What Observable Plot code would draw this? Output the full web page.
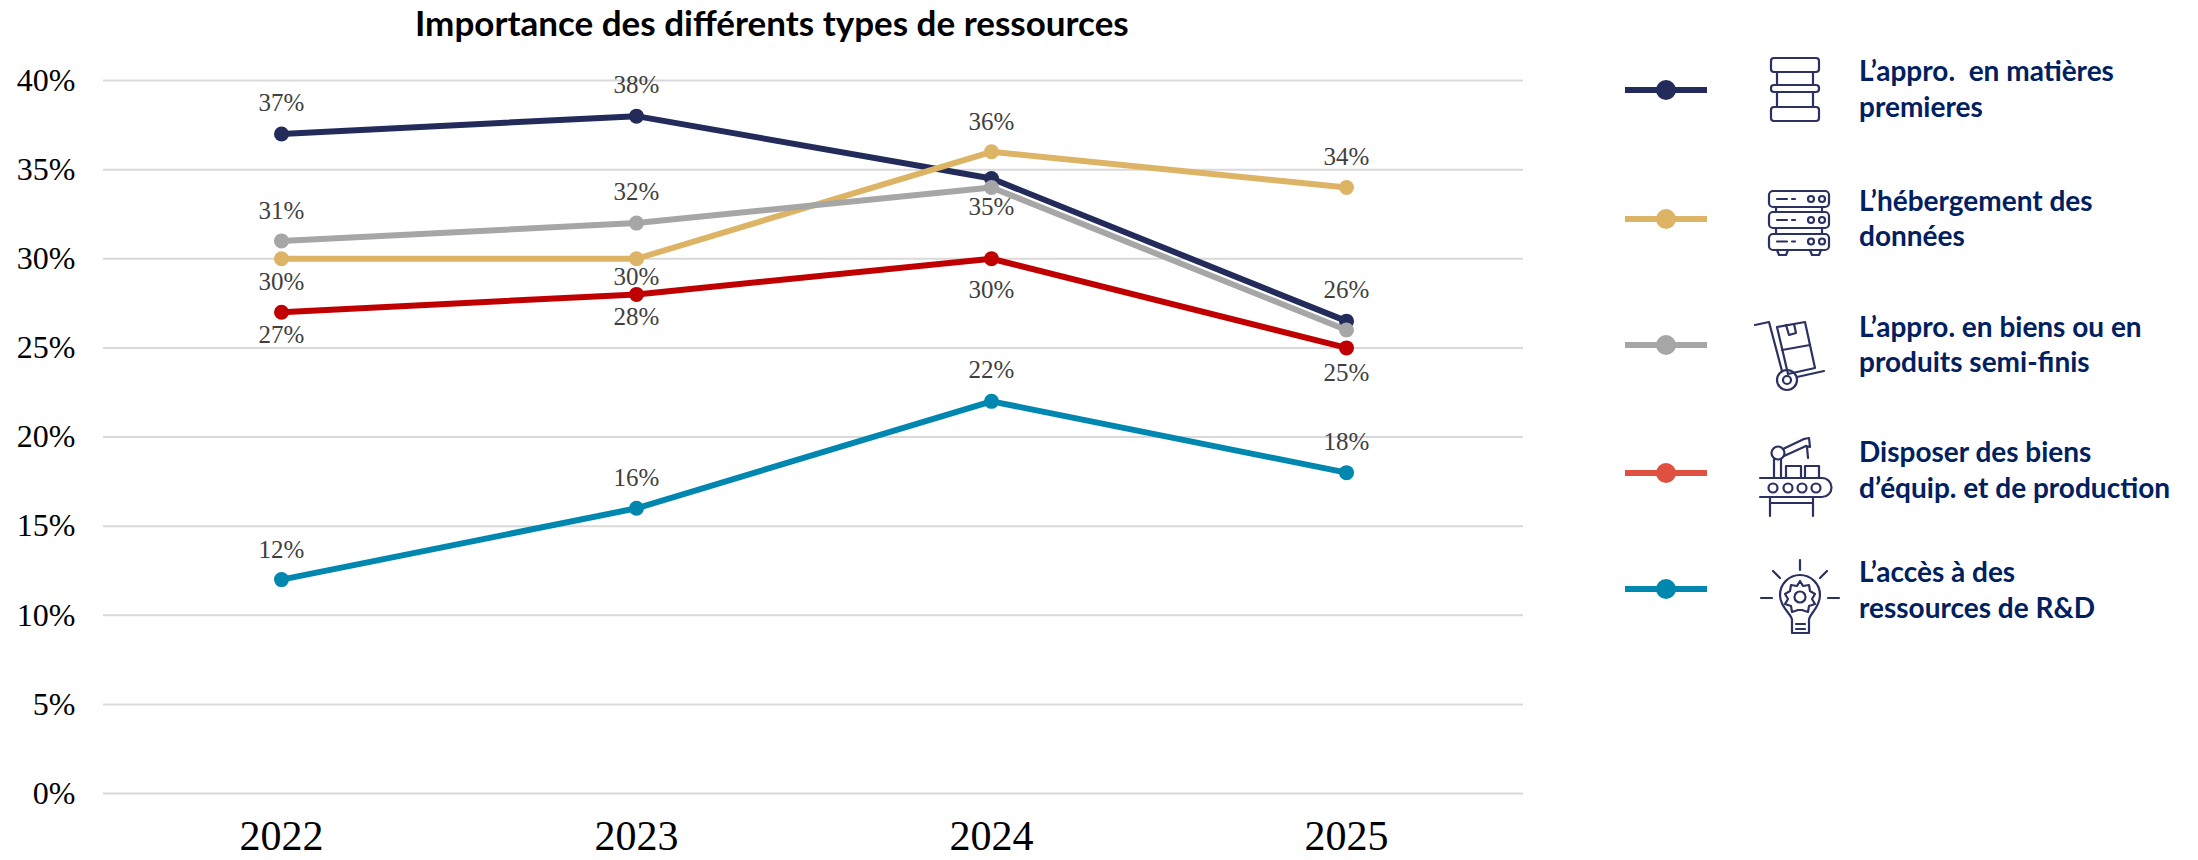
<!DOCTYPE html>
<html lang="fr">
<head>
<meta charset="utf-8">
<script src="https://cdn.jsdelivr.net/npm/d3@7"></script>
<script src="https://cdn.jsdelivr.net/npm/@observablehq/plot@0.6"></script>
<style>
html,body{margin:0;padding:0;background:#fff;width:2198px;height:860px;overflow:hidden}
#chart{position:absolute;left:0;top:0}
#overlay{position:absolute;left:0;top:0}
.lg{font-family:Lato;font-weight:700;font-size:28px;fill:#002060}
.ttl{font-family:Lato;font-weight:700;font-size:35px;fill:#000}
.ic{fill:none;stroke:#2b3160;stroke-width:2.2;stroke-linecap:round;stroke-linejoin:round}
</style>
</head>
<body>
<div id="chart"></div>
<svg id="overlay" width="2198" height="860" xmlns="http://www.w3.org/2000/svg"></svg>
<script>
const title = "Importance des différents types de ressources";
const years = [2022, 2023, 2024, 2025];
const yTicks = [0, 5, 10, 15, 20, 25, 30, 35, 40];

const matieres = [37, 38, 34.5, 26.5];
const hebergement = [30, 30, 36, 34];
const biens = [31, 32, 34, 26];
const equipement = [27, 28, 30, 25];
const rd = [12, 16, 22, 18];

const matieresLabels = ["37%", "38%", "35%", "26%"];
const hebergementLabels = ["30%", "30%", "36%", "34%"];
const biensLabels = ["31%", "32%", null, null];
const equipementLabels = ["27%", "28%", "30%", "25%"];
const rdLabels = ["12%", "16%", "22%", "18%"];

const seriesColors = ["#222b5a", "#ddb465", "#a6a6a6", "#c00000", "#0087b0"];
const legendColors = ["#222b5a", "#ddb465", "#a6a6a6", "#e05040", "#0087b0"];
const legendText = [
  ["L’appro.  en matières", "premieres"],
  ["L’hébergement des", "données"],
  ["L’appro. en biens ou en", "produits semi-finis"],
  ["Disposer des biens", "d’équip. et de production"],
  ["L’accès à des", "ressources de R&D"]
];

// vertical label offsets in px, same order as the series and years
const labelDy = [
  [-31, -31, 28, -31],
  [23, 18, -30, -30],
  [-30, -31, 0, 0],
  [23, 23, 31, 25],
  [-30, -30, -31, -31]
];

const seriesValues = [matieres, hebergement, biens, equipement, rd];
const seriesLabels = [matieresLabels, hebergementLabels, biensLabels, equipementLabels, rdLabels];
const rows = seriesValues.flatMap((vals, s) => vals.map((v, i) => ({
  s, year: years[i], value: v, label: seriesLabels[s][i], dy: labelDy[s][i]
})));
const labelRows = rows.filter(d => d.label);
const dyGroups = d3.groups(labelRows, d => d.dy);

const chart = Plot.plot({
  width: 2198,
  height: 860,
  marginLeft: 103,
  marginRight: 675,
  marginTop: 80,
  marginBottom: 67,
  style: {background: "#fff", fontFamily: "'Liberation Serif'"},
  x: {type: "point", domain: years, padding: 0.5, label: null},
  y: {domain: [0, 40], label: null},
  marks: [
    Plot.ruleY(yTicks, {stroke: "#d9d9d9", strokeWidth: 2}),
    Plot.axisY({ticks: yTicks, tickSize: 0, tickPadding: 28, fontSize: 32, fill: "#000",
      tickFormat: d => d + "%", label: null, marginLeft: 103}),
    Plot.axisX({tickSize: 0, tickPadding: 27, fontSize: 42, fill: "#000",
      tickFormat: d => String(d), label: null}),
    ...seriesValues.map((_, s) => [
      Plot.line(rows.filter(d => d.s === s), {x: "year", y: "value", stroke: seriesColors[s],
        strokeWidth: 6, strokeLinejoin: "round"}),
      Plot.dot(rows.filter(d => d.s === s), {x: "year", y: "value", fill: seriesColors[s], r: 7.5, stroke: "none"})
    ]),
    ...dyGroups.map(([dy, data]) => Plot.text(data, {x: "year", y: "value", text: "label", dy,
      fontSize: 25, fill: "#404040"}))
  ]
});
document.getElementById("chart").append(chart);

// title + legend overlay
const o = d3.select("#overlay");
o.append("text").attr("class", "ttl").attr("x", 415).attr("y", 36).text(title);

const lineY = [90, 219, 345, 473, 589];
const baselines = [[81, 117], [211, 246], [337, 372], [462, 498], [582, 618]];
legendColors.forEach((c, i) => {
  o.append("line").attr("x1", 1625).attr("x2", 1707).attr("y1", lineY[i]).attr("y2", lineY[i])
    .attr("stroke", c).attr("stroke-width", 6);
  o.append("circle").attr("cx", 1666).attr("cy", lineY[i]).attr("r", 10).attr("fill", c);
  legendText[i].forEach((t, k) => {
    o.append("text").attr("class", "lg").attr("x", 1859).attr("y", baselines[i][k])
      .attr("xml:space", "preserve").style("white-space", "pre").text(t);
  });
});

const icons = `
<g class="ic">
  <rect x="1771" y="58" width="48" height="14" rx="3"/>
  <rect x="1771" y="85" width="48" height="7" rx="3"/>
  <rect x="1771" y="107" width="48" height="14" rx="3"/>
  <path d="M1777 72V85M1813 72V85M1777 92V107M1813 92V107"/>
</g>
<g class="ic">
  <rect x="1769" y="191" width="60" height="16" rx="4"/>
  <rect x="1769" y="212" width="60" height="16" rx="4"/>
  <rect x="1769" y="234" width="60" height="16" rx="4"/>
  <path d="M1776 207V212M1822 207V212M1776 228V234M1822 228V234"/>
  <path d="M1777 199H1787M1792 199H1795M1777 220H1787M1792 220H1795M1777 241.500H1787M1792 241.500H1795"/>
  <circle cx="1811" cy="199" r="3"/><circle cx="1822" cy="199" r="3"/>
  <circle cx="1811" cy="220" r="3"/><circle cx="1822" cy="220" r="3"/>
  <circle cx="1811" cy="241.500" r="3"/><circle cx="1822" cy="241.500" r="3"/>
  <path d="M1777 250L1779 255H1786L1788 250M1810 250L1812 255H1819L1821 250"/>
</g>
<g class="ic">
  <path d="M1755 325L1769 322L1782 371"/>
  <path d="M1777 327L1805 322L1815 368L1788 374Z"/>
  <path d="M1786 325L1789 335L1796 333L1794 324"/>
  <path d="M1782 350L1810 345"/>
  <circle cx="1787" cy="380" r="10"/><circle cx="1787" cy="380" r="4"/>
  <path d="M1797 377L1824 371"/>
</g>
<g class="ic">
  <path d="M1760 478H1822A9.500 9.500 0 0 1 1822 497H1760"/>
  <circle cx="1773" cy="488" r="4.500"/><circle cx="1788" cy="488" r="4.500"/>
  <circle cx="1802" cy="488" r="4.500"/><circle cx="1816" cy="488" r="4.500"/>
  <path d="M1770 497V516M1813 497V516M1770 503H1813"/>
  <rect x="1786" y="466" width="15" height="12"/><rect x="1805" y="466" width="14" height="12"/>
  <path d="M1774 459V478M1781 459V478"/>
  <circle cx="1778" cy="453" r="6.500"/>
  <path d="M1783 449L1804 439M1784 456L1806 446"/>
  <path d="M1804 439L1809 438L1810 447L1806 446M1807 447L1808 458"/>
</g>
<g class="ic">
  <path d="M1800 560V570M1773 571L1780 578M1827 571L1820 578M1761 598H1772M1828 598H1839"/>
  <path d="M1792 633V620C1792 614 1780 608 1780 595A20 20 0 0 1 1820 595C1820 608 1809 614 1809 620V633Z"/>
  <path d="M1796 624H1805M1796 629H1805"/>
  <path d="M1800 581L1803 586L1809 585L1810 591L1815 594L1812 599L1815 604L1809 606L1808 612L1802 610L1798 610L1792 612L1791 606L1785 604L1788 599L1785 594L1790 591L1791 585L1797 586Z"/>
  <circle cx="1800" cy="597" r="5.500"/>
</g>`;
o.append("g").html(icons);
</script>
</body>
</html>
